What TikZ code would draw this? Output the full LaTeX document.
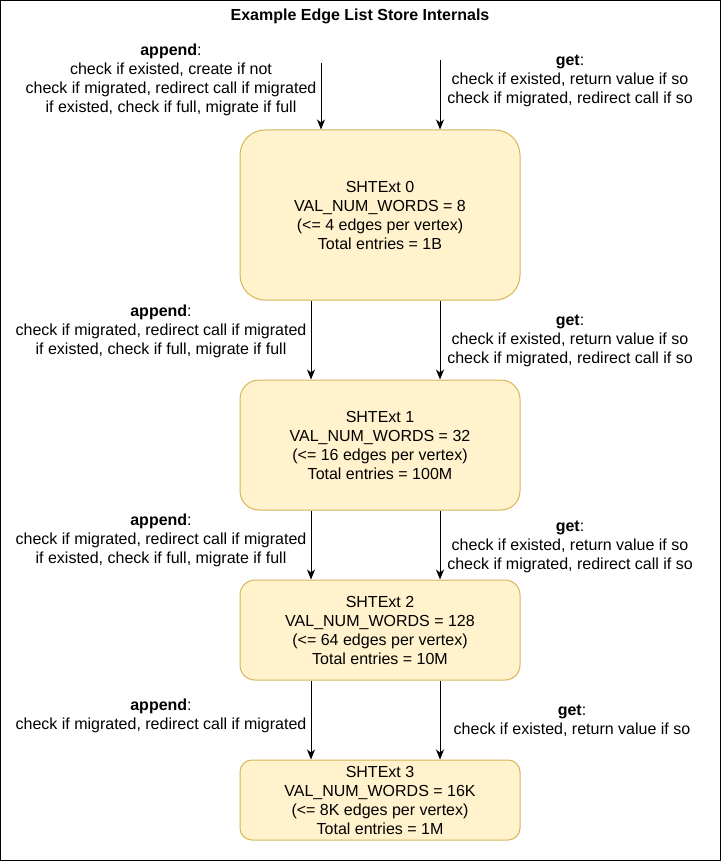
\documentclass[tikz,border=0pt]{standalone}
\usepackage{fontspec}
\setmainfont{Liberation Sans}
\usetikzlibrary{arrows.meta}
\definecolor{boxfill}{HTML}{FFF2CC}
\definecolor{boxline}{HTML}{D6B656}
\begin{document}
\begin{tikzpicture}[x=1pt,y=-1pt,
  every node/.style={font=\fontsize{16}{19}\selectfont, inner sep=0pt, align=center},
  shtbox/.style={draw=boxline, fill=boxfill, line width=1pt, minimum width=280pt},
  arr/.style={line width=1pt, -{Stealth[length=10pt,width=8pt,inset=3pt]}},
  lbl/.style={}]
\useasboundingbox (0,0) rectangle (721,861);
\draw[line width=1pt] (0.5,0.5) rectangle (720.5,860.5);
\node (title) at (360,16) {\textbf{Example Edge List Store Internals}};

\node[shtbox, minimum height=170pt, rounded corners=25pt] (b0) at (380,215)
  {SHTExt 0\\VAL\_NUM\_WORDS = 8\\(<= 4 edges per vertex)\\Total entries = 1B};
\node[shtbox, minimum height=130pt, rounded corners=19pt] (b1) at (380,445)
  {SHTExt 1\\VAL\_NUM\_WORDS = 32\\(<= 16 edges per vertex)\\Total entries = 100M};
\node[shtbox, minimum height=100pt, rounded corners=15pt] (b2) at (380,630)
  {SHTExt 2\\VAL\_NUM\_WORDS = 128\\(<= 64 edges per vertex)\\Total entries = 10M};
\node[shtbox, minimum height=80pt, rounded corners=12pt] (b3) at (380,800)
  {SHTExt 3\\VAL\_NUM\_WORDS = 16K\\(<= 8K edges per vertex)\\Total entries = 1M};

\coordinate (xl0) at (321,63);
\coordinate (xr0) at (440,60);
\coordinate (xl) at (311,0);
\coordinate (xr) at (440,0);

\draw[arr] (xl0) -- (b0.north -| xl0);
\draw[arr] (xr0) -- (b0.north -| xr0);
\draw[arr] (b0.south -| xl) -- (b1.north -| xl);
\draw[arr] (b0.south -| xr) -- (b1.north -| xr);
\draw[arr] (b1.south -| xl) -- (b2.north -| xl);
\draw[arr] (b1.south -| xr) -- (b2.north -| xr);
\draw[arr] (b2.south -| xl) -- (b3.north -| xl);
\draw[arr] (b2.south -| xr) -- (b3.north -| xr);

\node[lbl] (a0) at (171,80) {\textbf{append}:\\check if existed, create if not\\check if migrated, redirect call if migrated\\if existed, check if full, migrate if full};
\node[lbl] (g0) at (570,81) {\textbf{get}:\\check if existed, return value if so\\check if migrated, redirect call if so};
\node[lbl] (a1) at (161,331) {\textbf{append}:\\check if migrated, redirect call if migrated\\if existed, check if full, migrate if full};
\node[lbl] (g1) at (570,341) {\textbf{get}:\\check if existed, return value if so\\check if migrated, redirect call if so};
\node[lbl] (a2) at (161,540) {\textbf{append}:\\check if migrated, redirect call if migrated\\if existed, check if full, migrate if full};
\node[lbl] (g2) at (570,547) {\textbf{get}:\\check if existed, return value if so\\check if migrated, redirect call if so};
\node[lbl] (a3) at (161,716) {\textbf{append}:\\check if migrated, redirect call if migrated};
\node[lbl] (g3) at (572,721) {\textbf{get}:\\check if existed, return value if so};
\end{tikzpicture}
\end{document}
